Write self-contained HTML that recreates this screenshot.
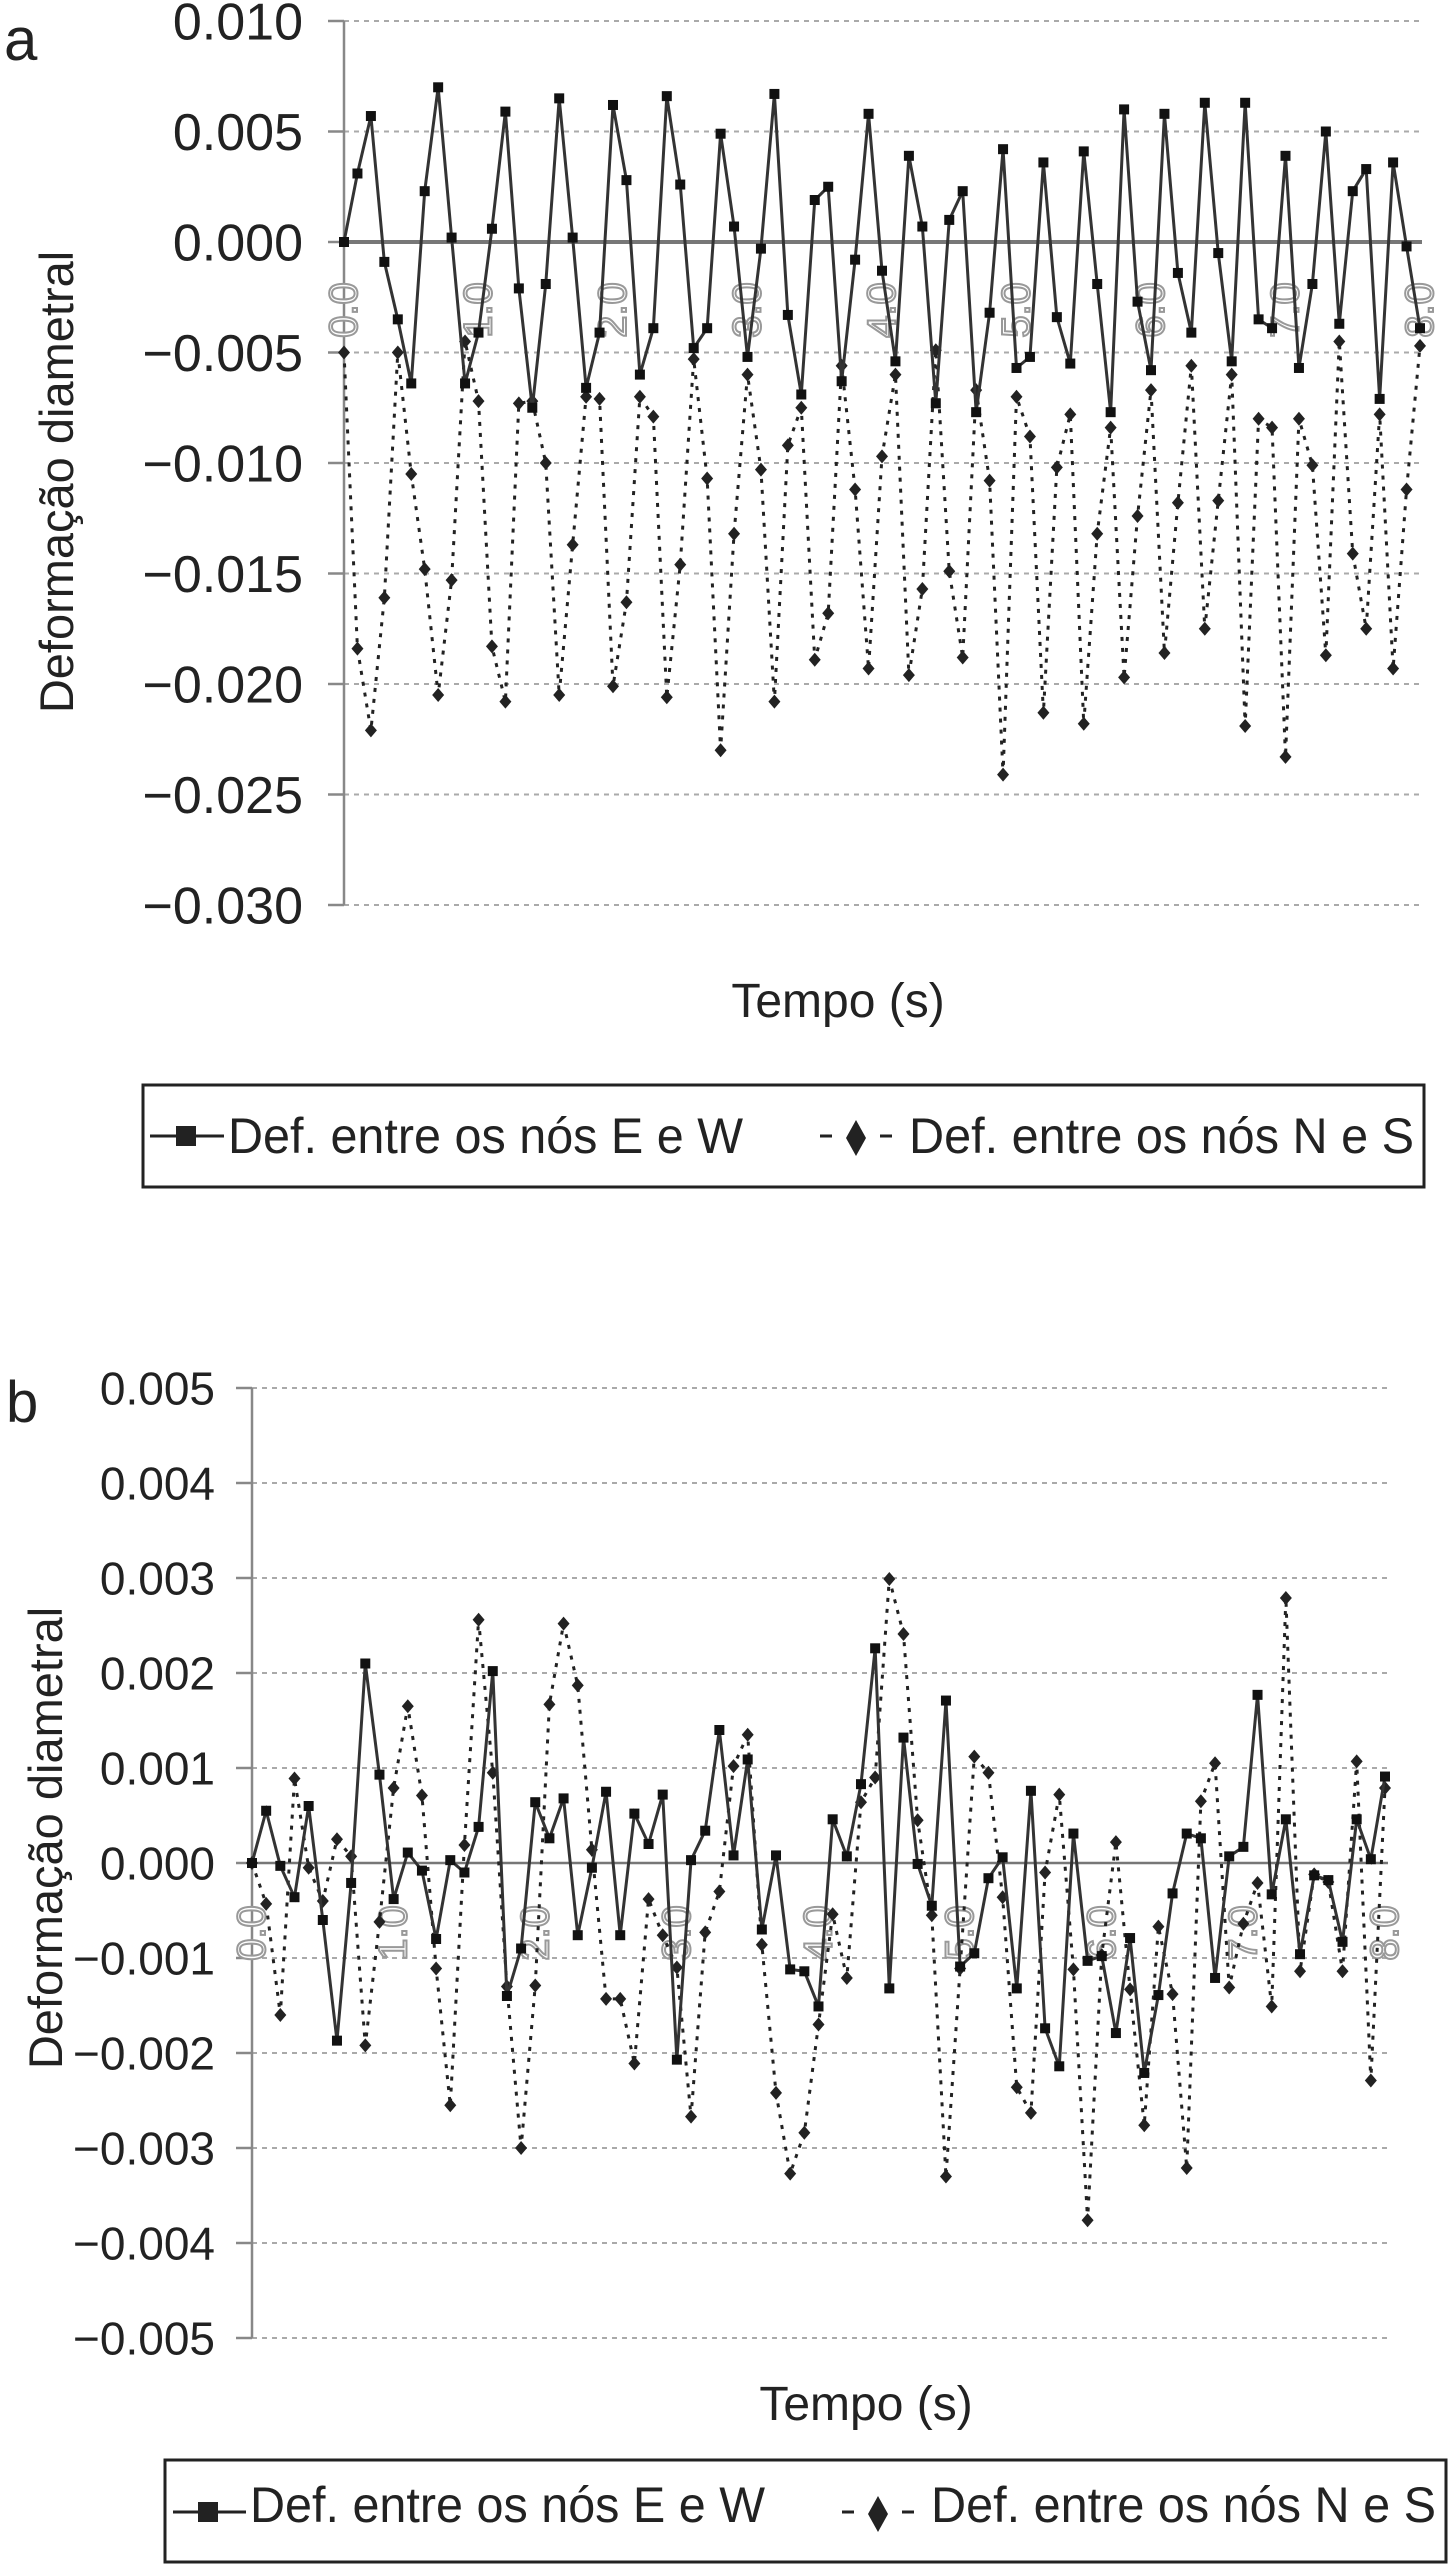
<!DOCTYPE html>
<html><head><meta charset="utf-8">
<style>
html,body{margin:0;padding:0;background:#fff;}
svg{display:block;font-family:"Liberation Sans",Arial,sans-serif;}
</style></head>
<body>
<svg id="fig" width="1450" height="2565" viewBox="0 0 1450 2565" xmlns="http://www.w3.org/2000/svg">
  <text x="4" y="60" font-size="60" fill="#222">a</text>
  <text x="6" y="1422" font-size="58" fill="#222">b</text>
  <g id="chartA"></g>
  <g id="chartB"></g>

  <text x="838" y="1017" font-size="48" text-anchor="middle" fill="#222">Tempo (s)</text>
  <text x="866" y="2420" font-size="48" text-anchor="middle" fill="#222">Tempo (s)</text>
  <text transform="translate(73,482) rotate(-90)" font-size="47" text-anchor="middle" fill="#222">Deformação diametral</text>
  <text transform="translate(62,1838) rotate(-90)" font-size="47" text-anchor="middle" fill="#222">Deformação diametral</text>

  <g>
    <rect x="143" y="1085" width="1281" height="102" fill="none" stroke="#222" stroke-width="3"/>
    <g>
      <line x1="150" y1="1136" x2="224" y2="1136" stroke="#222" stroke-width="3"/>
      <rect x="176" y="1126" width="20" height="20" fill="#222"/>
      <text x="228" y="1153" font-size="50" fill="#222" textLength="515" lengthAdjust="spacingAndGlyphs">Def. entre os nós E e W</text>
    </g>
    <g>
      <line x1="820" y1="1136" x2="832" y2="1136" stroke="#222" stroke-width="3"/>
      <polygon points="856,1120 866,1138 856,1156 846,1138" fill="#222"/>
      <line x1="880" y1="1136" x2="892" y2="1136" stroke="#222" stroke-width="3"/>
      <text x="909" y="1153" font-size="50" fill="#222" textLength="505" lengthAdjust="spacingAndGlyphs">Def. entre os nós N e S</text>
    </g>
  </g>
  <g>
    <rect x="165" y="2460" width="1281" height="102" fill="none" stroke="#222" stroke-width="3"/>
    <g>
      <line x1="173" y1="2512" x2="246" y2="2512" stroke="#222" stroke-width="3"/>
      <rect x="198" y="2502" width="20" height="20" fill="#222"/>
      <text x="250" y="2522" font-size="50" fill="#222" textLength="515" lengthAdjust="spacingAndGlyphs">Def. entre os nós E e W</text>
    </g>
    <g>
      <line x1="842" y1="2512" x2="854" y2="2512" stroke="#222" stroke-width="3"/>
      <polygon points="878,2496 888,2514 878,2532 868,2514" fill="#222"/>
      <line x1="902" y1="2512" x2="914" y2="2512" stroke="#222" stroke-width="3"/>
      <text x="931" y="2522" font-size="50" fill="#222" textLength="505" lengthAdjust="spacingAndGlyphs">Def. entre os nós N e S</text>
    </g>
  </g>
</svg>
<script>
const NS = "http://www.w3.org/2000/svg";
const xLabels = ["0.0","1.0","2.0","3.0","4.0","5.0","6.0","7.0","8.0"];
const yTicksA = [0.010,0.005,0.000,-0.005,-0.010,-0.015,-0.020,-0.025,-0.030];
const yTickLabelsA = ["0.010","0.005","0.000","\u22120.005","\u22120.010","\u22120.015","\u22120.020","\u22120.025","\u22120.030"];
const yTicksB = [0.005,0.004,0.003,0.002,0.001,0.000,-0.001,-0.002,-0.003,-0.004,-0.005];
const yTickLabelsB = ["0.005","0.004","0.003","0.002","0.001","0.000","\u22120.001","\u22120.002","\u22120.003","\u22120.004","\u22120.005"];

const ewA = [0,0.0031,0.0057,-0.0009,-0.0035,-0.0064,0.0023,0.0070,0.0002,-0.0064,
 -0.0041,0.0006,0.0059,-0.0021,-0.0075,-0.0019,0.0065,0.0002,-0.0066,-0.0041,
 0.0062,0.0028,-0.0060,-0.0039,0.0066,0.0026,-0.0048,-0.0039,0.0049,0.0007,
 -0.0052,-0.0003,0.0067,-0.0033,-0.0069,0.0019,0.0025,-0.0063,-0.0008,0.0058,
 -0.0013,-0.0054,0.0039,0.0007,-0.0073,0.0010,0.0023,-0.0077,-0.0032,0.0042,
 -0.0057,-0.0052,0.0036,-0.0034,-0.0055,0.0041,-0.0019,-0.0077,0.0060,-0.0027,
 -0.0058,0.0058,-0.0014,-0.0041,0.0063,-0.0005,-0.0054,0.0063,-0.0035,-0.0039,
 0.0039,-0.0057,-0.0019,0.0050,-0.0037,0.0023,0.0033,-0.0071,0.0036,-0.0002,-0.0039];
const nsA = [-0.0050,-0.0184,-0.0221,-0.0161,-0.0050,-0.0105,-0.0148,-0.0205,-0.0153,-0.0045,
 -0.0072,-0.0183,-0.0208,-0.0073,-0.0072,-0.0100,-0.0205,-0.0137,-0.0070,-0.0071,
 -0.0201,-0.0163,-0.0070,-0.0079,-0.0206,-0.0146,-0.0053,-0.0107,-0.0230,-0.0132,
 -0.0060,-0.0103,-0.0208,-0.0092,-0.0075,-0.0189,-0.0168,-0.0056,-0.0112,-0.0193,
 -0.0097,-0.0060,-0.0196,-0.0157,-0.0049,-0.0149,-0.0188,-0.0067,-0.0108,-0.0241,
 -0.0070,-0.0088,-0.0213,-0.0102,-0.0078,-0.0218,-0.0132,-0.0084,-0.0197,-0.0124,
 -0.0067,-0.0186,-0.0118,-0.0056,-0.0175,-0.0117,-0.0060,-0.0219,-0.0080,-0.0084,
 -0.0233,-0.0080,-0.0101,-0.0187,-0.0045,-0.0141,-0.0175,-0.0078,-0.0193,-0.0112,-0.0047];
const ewB = [0,0.00055,-0.00003,-0.00036,0.0006,-0.0006,-0.00187,-0.00021,0.0021,0.00093,
 -0.00038,0.00011,-0.00008,-0.0008,0.00003,-0.0001,0.00038,0.00202,-0.0014,-0.0009,
 0.00064,0.00026,0.00068,-0.00076,-0.00005,0.00075,-0.00076,0.00052,0.0002,0.00072,
 -0.00207,0.00003,0.00034,0.0014,0.00008,0.00109,-0.0007,0.00008,-0.00112,-0.00114,
 -0.00151,0.00046,0.00007,0.00083,0.00226,-0.00132,0.00132,-0.00001,-0.00045,0.00171,
 -0.00109,-0.00095,-0.00016,0.00006,-0.00132,0.00076,-0.00174,-0.00214,0.00031,-0.00103,
 -0.00098,-0.00179,-0.00079,-0.00221,-0.00139,-0.00032,0.00031,0.00026,-0.00121,0.00007,
 0.00017,0.00177,-0.00033,0.00046,-0.00096,-0.00013,-0.00018,-0.00083,0.00046,0.00004,0.00091];
const nsB = [0,-0.00043,-0.0016,0.00089,-0.00005,-0.0004,0.00025,0.00007,-0.00192,-0.00062,
 0.00079,0.00165,0.00071,-0.00111,-0.00255,0.00019,0.00256,0.00095,-0.0013,-0.0030,
 -0.00129,0.00167,0.00252,0.00187,0.00014,-0.00143,-0.00143,-0.00211,-0.00038,-0.00076,
 -0.0011,-0.00267,-0.00073,-0.0003,0.00102,0.00135,-0.00086,-0.00242,-0.00327,-0.00284,
 -0.0017,-0.00054,-0.00121,0.00064,0.0009,0.00299,0.00241,0.00045,-0.00055,-0.0033,
 -0.00111,0.00112,0.00095,-0.00036,-0.00236,-0.00263,-0.0001,0.00072,-0.00112,-0.00376,
 -0.00097,0.00022,-0.00133,-0.00276,-0.00067,-0.00138,-0.00321,0.00065,0.00105,-0.00131,
 -0.00064,-0.00021,-0.00151,0.00279,-0.00114,-0.00012,-0.0002,-0.00114,0.00107,-0.00229,0.00079];

function mk(tag, attrs, parent){
  const e = document.createElementNS(NS, tag);
  for (const k in attrs) e.setAttribute(k, attrs[k]);
  parent.appendChild(e);
  return e;
}

function drawChart(g, cfg, ticks, tickLabels, ew, ns, id){
  const n = ew.length;
  const xs = i => cfg.x0 + (cfg.x1 - cfg.x0) * i / (n - 1);
  const ys = v => cfg.y0 - v * cfg.pxPerUnit;
  // gridlines & ticks
  ticks.forEach((t, k) => {
    const y = ys(t);
    const gl = mk("line", {x1: cfg.x0, y1: y, x2: cfg.gridEnd, y2: y, stroke: "#aaa", "stroke-width": 2, "stroke-dasharray": "5 5"}, g);
    
    
    const tk = mk("line", {x1: cfg.x0 - 16, y1: y, x2: cfg.x0, y2: y, stroke: "#888", "stroke-width": 2.5}, g);
    
    
    const tl = mk("text", {x: cfg.labelRight, y: y + cfg.labelFont * 0.36, "font-size": cfg.labelFont, "text-anchor": "end", fill: "#222"}, g);
    tl.textContent = tickLabels[k];
    
    
  });
  // y axis
  const ax = mk("line", {x1: cfg.x0, y1: ys(ticks[0]), x2: cfg.x0, y2: ys(ticks[ticks.length - 1]), stroke: "#888", "stroke-width": 2.5}, g);
  
  
  // zero line
  const zl = mk("line", {x1: cfg.x0, y1: ys(0), x2: cfg.gridEnd, y2: ys(0), stroke: "#777", "stroke-width": cfg.zeroW}, g);
  
  
  // category labels (rotated, gray)
  xLabels.forEach((lab, k) => {
    const i = k * 10;
    const t = mk("text", {transform: "translate(" + (xs(i) + 13) + "," + cfg.catY + ") rotate(-90)", "font-size": 40, "text-anchor": "middle", fill: "#fff", stroke: "#999", "stroke-width": 2}, g);
    t.textContent = lab;
    
    
  });
  // N-S series
  const pNs = mk("polyline", {points: ns.map((v, i) => xs(i) + "," + ys(v)).join(" "), fill: "none", stroke: "#222", "stroke-width": 3, "stroke-dasharray": "4 7"}, g);
  
  
  ns.forEach((v, i) => {
    const x = xs(i), y = ys(v);
    const d = mk("polygon", {points: x + "," + (y - 7) + " " + (x + 6) + "," + y + " " + x + "," + (y + 7) + " " + (x - 6) + "," + y, fill: "#222"}, g);
    
    
  });
  // E-W series
  const pEw = mk("polyline", {points: ew.map((v, i) => xs(i) + "," + ys(v)).join(" "), fill: "none", stroke: "#333", "stroke-width": 3}, g);
  
  
  ew.forEach((v, i) => {
    const x = xs(i), y = ys(v);
    const s = mk("rect", {x: x - 5, y: y - 5, width: 10, height: 10, fill: "#111"}, g);
    
    
  });
}

drawChart(document.getElementById("chartA"),
  {x0: 344, x1: 1420, gridEnd: 1422, y0: 242, pxPerUnit: 22100, labelRight: 303, labelFont: 52, zeroW: 4, catY: 310},
  yTicksA, yTickLabelsA, ewA, nsA, "a");
drawChart(document.getElementById("chartB"),
  {x0: 252, x1: 1385, gridEnd: 1388, y0: 1863, pxPerUnit: 95000, labelRight: 215, labelFont: 46, zeroW: 2.5, catY: 1933},
  yTicksB, yTickLabelsB, ewB, nsB, "b");
</script>
</body></html>
